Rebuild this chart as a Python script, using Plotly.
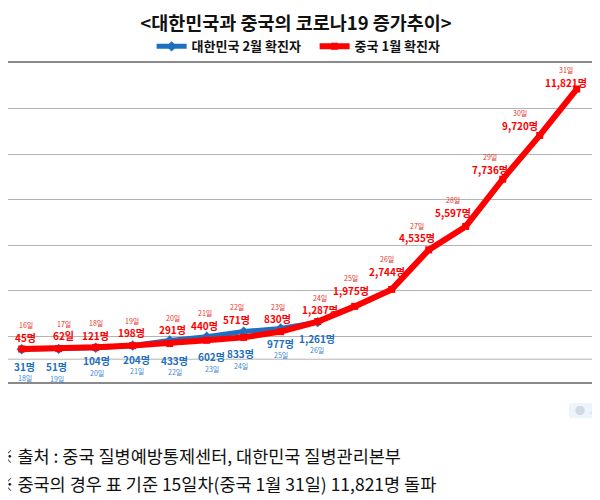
import plotly.graph_objects as go

FONT = "Noto Sans CJK KR"
RED = "#ff0000"
BLUE = "#1f6fc0"

# ── Data ─────────────────────────────────────────────────────────
china_days = ["16일", "17일", "18일", "19일", "20일", "21일", "22일", "23일",
              "24일", "25일", "26일", "27일", "28일", "29일", "30일", "31일"]
china_cases = [45, 62, 121, 198, 291, 440, 571, 830,
               1287, 1975, 2744, 4535, 5597, 7736, 9720, 11821]
china_text = ["45명", "62일", "121명", "198명", "291명", "440명", "571명", "830명",
              "1,287명", "1,975명", "2,744명", "4,535명", "5,597명", "7,736명",
              "9,720명", "11,821명"]

korea_days = ["18일", "19일", "20일", "21일", "22일", "23일", "24일", "25일", "26일"]
korea_cases = [31, 51, 104, 204, 433, 602, 833, 977, 1261]
korea_text = ["31명", "51명", "104명", "204명", "433명", "602명", "833명",
              "977명", "1,261명"]

# label offsets in px (style only)
china_dx = [4, 5, 0, -1, 3, -2, -7, -3, 2, -4, -5, -12, -13, -13, -20, -11]
china_dy = [12, 13, 12, 13, 14, 15, 18, 13, 12, 16, 18, 12, 14, 10, 10, 7]
korea_dx = [3, -2, 1, 4, 5, 5, -3, 0, -1]
korea_dy = [17, 18, 13, 14, 20, 20, 22, 15, 16]

Y_MIN, Y_MAX = -1450, 13000
DTICK = (Y_MAX - Y_MIN) / 7

fig = go.Figure()

fig.add_trace(go.Scatter(
    x=list(range(len(korea_cases))), y=korea_cases,
    mode="lines+markers", name="<b>대한민국 2월 확진자</b>",
    line=dict(color=BLUE, width=5),
    marker=dict(symbol="diamond", size=8, color=BLUE),
))
fig.add_trace(go.Scatter(
    x=list(range(len(china_cases))), y=china_cases,
    mode="lines+markers", name="<b>중국 1월 확진자</b>",
    line=dict(color=RED, width=6),
    marker=dict(symbol="square", size=7, color=RED),
))

# ── Data labels ──────────────────────────────────────────────────
for i, (v, t, d) in enumerate(zip(china_cases, china_text, china_days)):
    fig.add_annotation(x=i, y=v, text=f"<b>{t}</b>", showarrow=False,
                       xshift=china_dx[i], yshift=china_dy[i],
                       font=dict(family=FONT, size=10, color=RED))
    fig.add_annotation(x=i, y=v, text=d, showarrow=False,
                       xshift=china_dx[i], yshift=china_dy[i] + 12,
                       font=dict(family=FONT, size=7, color="#e8302c"))

for i, (v, t, d) in enumerate(zip(korea_cases, korea_text, korea_days)):
    fig.add_annotation(x=i, y=v, text=f"<b>{t}</b>", showarrow=False,
                       xshift=korea_dx[i], yshift=-korea_dy[i],
                       font=dict(family=FONT, size=10, color=BLUE))
    fig.add_annotation(x=i, y=v, text=d, showarrow=False,
                       xshift=korea_dx[i], yshift=-korea_dy[i] - 12,
                       font=dict(family=FONT, size=7, color="#3a86d2"))

# extra half gridline near the bottom
fig.add_shape(type="line", xref="paper", yref="y", x0=0, x1=1,
              y0=Y_MIN + DTICK / 2, y1=Y_MIN + DTICK / 2,
              line=dict(color="#b4b4b4", width=1), layer="below")

# ── Footnotes ────────────────────────────────────────────────────
fig.add_annotation(xref="paper", yref="paper", x=-0.024, y=-0.229,
                   xanchor="left", yanchor="middle", showarrow=False,
                   text="※ 출처 : 중국 질병예방통제센터, 대한민국 질병관리본부",
                   font=dict(family=FONT, size=17.5, color="#111"))
fig.add_annotation(xref="paper", yref="paper", x=-0.024, y=-0.317,
                   xanchor="left", yanchor="middle", showarrow=False,
                   text="※ 중국의 경우 표 기준 15일차(중국 1월 31일) 11,821명 돌파",
                   font=dict(family=FONT, size=17.5, color="#111"))

# faint widget in the corner
fig.add_shape(type="rect", xref="paper", yref="paper",
              x0=0.959, x1=1.02, y0=-0.066, y1=-0.113,
              fillcolor="#eef4fb", line=dict(width=0))
fig.add_annotation(xref="paper", yref="paper", x=0.965, y=-0.09,
                   xanchor="left", yanchor="middle", showarrow=False,
                   text="●  시", font=dict(family=FONT, size=10, color="#cfd8e3"))

fig.update_xaxes(range=[-0.37, 15.44], showgrid=False, zeroline=False,
                 showticklabels=False, ticks="",
                 showline=True, mirror=True, linecolor="#8a8a8a", linewidth=1.5)
fig.update_yaxes(range=[Y_MIN, Y_MAX], tick0=Y_MIN, dtick=DTICK,
                 showgrid=True, gridcolor="#b4b4b4", gridwidth=1,
                 zeroline=False, showticklabels=False, ticks="",
                 showline=True, mirror=True, linecolor="#8a8a8a", linewidth=1.5)

fig.update_layout(
    width=600, height=500,
    margin=dict(l=0, r=15, t=55, b=126),
    paper_bgcolor="white", plot_bgcolor="white",
    font=dict(family=FONT, color="#111"),
    title=dict(text="<b>&lt;대한민국과 중국의 코로나19 증가추이&gt;</b>",
               x=0.48, xanchor="center", y=0.968, yanchor="middle",
               font=dict(family=FONT, size=18.5, color="#111")),
    showlegend=True,
    legend=dict(orientation="h", x=0.2455, xanchor="left",
                y=1.052, yanchor="middle",
                entrywidth=118, entrywidthmode="pixels",
                font=dict(family=FONT, size=13, color="#111"),
                bgcolor="rgba(0,0,0,0)"),
)

fig.write_html("out.html")
